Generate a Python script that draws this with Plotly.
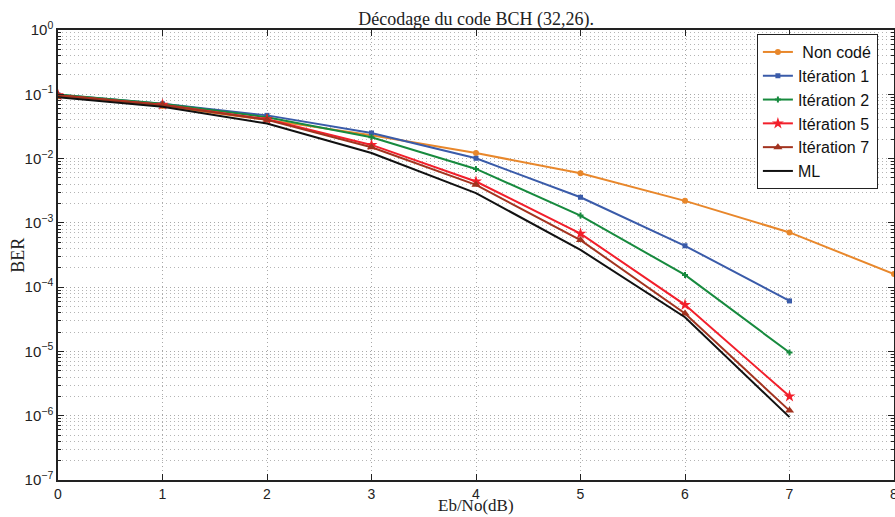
import plotly.graph_objects as go

# Eb/No (dB)
ebno = [0, 1, 2, 3, 4, 5, 6, 7, 8]
ebno_coded = [0, 1, 2, 3, 4, 5, 6, 7]

# BER values
ber_uncoded = [0.093, 0.066, 0.040, 0.023, 0.0122, 0.0059, 0.0022, 0.00071, 0.00016]
ber_iter1 = [0.098, 0.071, 0.047, 0.025, 0.0101, 0.0025, 0.00044, 0.000061]
ber_iter2 = [0.099, 0.071, 0.044, 0.0215, 0.0069, 0.0013, 0.000155, 0.0000096]
ber_iter5 = [0.097, 0.069, 0.041, 0.0163, 0.0044, 0.00068, 0.000053, 0.0000020]
ber_iter7 = [0.097, 0.068, 0.040, 0.0150, 0.0039, 0.00054, 0.000039, 0.0000012]
ber_ml = [0.090, 0.064, 0.035, 0.0122, 0.0029, 0.00038, 0.000034, 0.00000095]

y_ticks = [1e0, 1e-1, 1e-2, 1e-3, 1e-4, 1e-5, 1e-6, 1e-7]
y_ticktext = ["10<sup>0</sup>", "10<sup>−1</sup>", "10<sup>−2</sup>", "10<sup>−3</sup>",
              "10<sup>−4</sup>", "10<sup>−5</sup>", "10<sup>−6</sup>", "10<sup>−7</sup>"]
y_minor = [m * 10.0 ** (-e) for e in range(1, 8) for m in range(2, 10)]

series = [
    (" Non codé", ebno, ber_uncoded, "#E8872B", "circle", 6),
    ("Itération 1", ebno_coded, ber_iter1, "#3A5BA9", "square", 5),
    ("Itération 2", ebno_coded, ber_iter2, "#178A3E", "cross", 5),
    ("Itération 5", ebno_coded, ber_iter5, "#F21F2B", "star", 9),
    ("Itération 7", ebno_coded, ber_iter7, "#A2331F", "triangle-up", 8),
    ("ML", ebno_coded, ber_ml, "#111111", None, 0),
]

fig = go.Figure()
for name, x, y, color, symbol, size in series:
    if symbol:
        fig.add_trace(go.Scatter(
            x=x, y=y, name=name, mode="lines+markers",
            line=dict(color=color, width=2),
            marker=dict(symbol=symbol, size=size, color=color)
        ))
    else:
        fig.add_trace(go.Scatter(
            x=x, y=y, name=name, mode="lines",
            line=dict(color=color, width=2)
        ))

serif = "Liberation Serif, Times New Roman"
sans = "Liberation Sans, Arial"
grid_dash = "1px,3px"

fig.update_xaxes(
    range=[0, 8], dtick=1, tick0=0, automargin=False,
    showline=True, linecolor="#222222", linewidth=1.5, mirror="ticks",
    ticks="inside", ticklen=6, tickcolor="#222222",
    showgrid=True, gridcolor="#a8a8a8", griddash=grid_dash, gridwidth=1,
    zeroline=False, tickfont=dict(family=sans, size=14, color="#222222"),
    ticklabeloverflow="allow"
)
fig.update_yaxes(
    type="log", range=[-7, 0], automargin=False,
    tickmode="array", tickvals=y_ticks, ticktext=y_ticktext,
    showline=True, linecolor="#222222", linewidth=1.5, mirror="ticks",
    ticks="inside", ticklen=6, tickcolor="#222222",
    showgrid=True, gridcolor="#a8a8a8", griddash=grid_dash, gridwidth=1,
    minor=dict(tickmode="array", tickvals=y_minor, ticks="inside", ticklen=3,
               tickcolor="#222222", showgrid=True, gridcolor="#b4b4b4",
               griddash=grid_dash, gridwidth=1),
    zeroline=False, tickfont=dict(family=sans, size=15, color="#222222")
)

# axis titles placed as annotations (MATLAB-like positions)
fig.add_annotation(text="Eb/No(dB)", xref="paper", yref="paper", x=0.5, y=-0.079,
                   xanchor="center", yanchor="bottom", showarrow=False, borderpad=0,
                   font=dict(family=serif, size=17, color="#222222"))
fig.add_annotation(text="BER", xref="paper", yref="paper", x=-0.048, y=0.5,
                   xanchor="center", yanchor="middle", showarrow=False, textangle=-90,
                   font=dict(family=serif, size=18, color="#222222"))

fig.update_layout(
    width=895, height=517,
    margin=dict(l=58, r=1, t=30, b=37),
    paper_bgcolor="white", plot_bgcolor="white",
    title=dict(text="Décodage du code BCH (32,26).", x=0.532, xanchor="center",
               y=0.963, yanchor="middle",
               font=dict(family=serif, size=18, color="#222222")),
    legend=dict(x=0.836, y=0.991, xanchor="left", yanchor="top",
                bgcolor="white", bordercolor="#222222", borderwidth=1,
                font=dict(family=sans, size=16, color="#111111"),
                tracegroupgap=0, itemwidth=30),
    showlegend=True
)

# drop the default page margin so the figure sits at the window's top-left corner
fig.write_html("out.html", config={"displayModeBar": False},
               post_script="document.body.style.margin='0';document.body.style.overflow='hidden';")
